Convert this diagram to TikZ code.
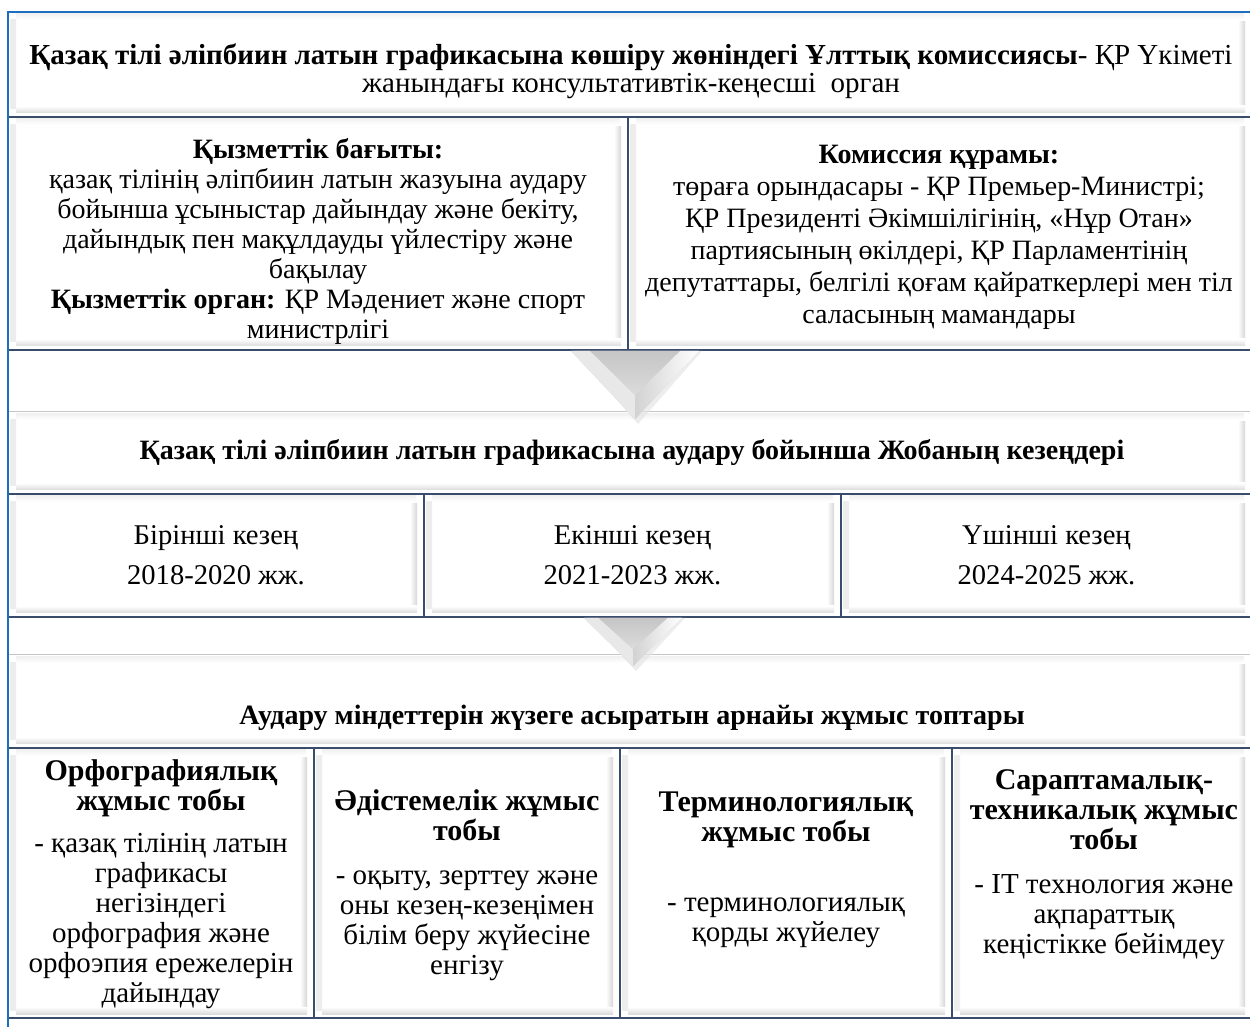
\documentclass[tikz,border=0pt]{standalone}
\usepackage{fontspec}
\setmainfont{Liberation Serif}
\usepackage{xcolor}
\definecolor{frameblue}{RGB}{30,110,192}
\definecolor{edgeline}{RGB}{58,76,108}
\newcommand{\grphead}[1]{{\fontsize{15}{15}\selectfont\bfseries #1}}
% bevelled down arrow: centre x, top y, half width, height
\newcommand{\bevelarrow}[4]{%
  \fill[gray!20, opacity=.7] ({#1-#3+3},{#2}) -- ({#1+#3+3},{#2}) -- ({#1+3},{#2+#4+5}) -- cycle;
  \fill[gray!38] ({#1-#3},{#2}) -- ({#1+#3},{#2}) -- ({#1},{#2+#4}) -- cycle;
  \fill[gray!18] ({#1-#3},{#2}) -- ({#1},{#2+#4}) -- ({#1},{#2+0.65*#4}) -- ({#1-0.7*#3},{#2}) -- cycle;
  \shade[left color=gray!35, right color=white] ({#1+0.7*#3},{#2}) -- ({#1+#3},{#2}) -- ({#1},{#2+#4}) -- ({#1},{#2+0.65*#4}) -- cycle;
  \shade[top color=gray!45, bottom color=gray!28] ({#1-0.7*#3},{#2}) -- ({#1+0.7*#3},{#2}) -- ({#1},{#2+0.65*#4}) -- cycle;
}
\tikzset{
  bevel/.style={path picture={
      \shade[left color=gray!14, right color=white] ([xshift=1pt,yshift=4pt]path picture bounding box.south west) rectangle ([xshift=4pt,yshift=-4pt]path picture bounding box.north west);
      \shade[top color=gray!10, bottom color=white] ([xshift=4pt,yshift=-1pt]path picture bounding box.north west) rectangle ([xshift=-4pt,yshift=-4pt]path picture bounding box.north east);
      \shade[left color=white, right color=gray!32] ([xshift=-7pt,yshift=5pt]path picture bounding box.south east) rectangle ([xshift=-3.5pt,yshift=-5pt]path picture bounding box.north east);
      \shade[top color=white, bottom color=gray!28] ([xshift=4pt,yshift=5.5pt]path picture bounding box.south west) rectangle ([xshift=-3.5pt,yshift=2pt]path picture bounding box.south east);
  }},
  panel/.style={draw=edgeline, line width=0.7pt, fill=white, bevel, inner sep=0pt},
  headpanel/.style={fill=white, bevel, inner sep=0pt},
  body/.style={font={\fontsize{14}{15}\selectfont}, align=center, inner sep=0pt},
  groupbody/.style={font={\fontsize{14.5}{15}\selectfont}, align=center, inner sep=0pt},
}
\begin{document}
\begin{tikzpicture}[x=0.5pt, y=-0.5pt]
\useasboundingbox (0,0) rectangle (1250,1027);

% commission
\node[headpanel, minimum width=622pt, minimum height=52.5pt] (head) at (630,64.5) {};
\node[body, font={\fontsize{14.5}{14}\selectfont}] (headtext) at (631,71)
  {\textbf{Қазақ тілі әліпбиин латын графикасына көшіру жөніндегі Ұлттық комиссиясы}- ҚР Үкіметі\\
   жанындағы консультативтік-кеңесші\ \ орган};

\node[panel, minimum width=310pt, minimum height=116.5pt] (aim) at (318,233.5) {};
\node[panel, minimum width=312pt, minimum height=116.5pt] (members) at (940,233.5) {};
\node[body] (aimtext) at (318,241)
  {\textbf{Қызметтік бағыты:}\\
   қазақ тілінің әліпбиин латын жазуына аудару\\
   бойынша ұсыныстар дайындау және бекіту,\\
   дайындық пен мақұлдауды үйлестіру және\\
   бақылау\\
   \textbf{Қызметтік орган:} ҚР Мәдениет және спорт\\
   министрлігі};
\node[body, font={\fontsize{14}{16}\selectfont}] (memberstext) at (939,237)
  {\textbf{Комиссия құрамы:}\\
   төраға орындасары - ҚР Премьер-Министрі;\\
   ҚР Президенті Әкімшілігінің, «Нұр Отан»\\
   партиясының өкілдері, ҚР Парламентінің\\
   депутаттары, белгілі қоғам қайраткерлері мен тіл\\
   саласының мамандары};

% stages
\node[headpanel, minimum width=622pt, minimum height=41pt] (stages) at (630,453) {};
\draw[gray!45, line width=0.8pt] (stages.north west) -- (stages.north east);
\node[body, font={\bfseries\fontsize{14}{15}\selectfont}] (stagestext) at (632,453)
  {Қазақ тілі әліпбиин латын графикасына аудару бойынша Жобаның кезеңдері};

\node[panel, minimum width=208pt, minimum height=61.5pt, body, font={\fontsize{14.3}{20}\selectfont}] (stage1) at (216,555.5)
  {Бірінші кезең\\ 2018-2020 жж.};
\node[panel, minimum width=208.5pt, minimum height=61.5pt, body, font={\fontsize{14.3}{20}\selectfont}] (stage2) at (632.5,555.5)
  {Екінші кезең\\ 2021-2023 жж.};
\node[panel, minimum width=205.5pt, minimum height=61.5pt, body, font={\fontsize{14.3}{20}\selectfont}] (stage3) at (1046.5,555.5)
  {Үшінші кезең\\ 2024-2025 жж.};

% working groups
\node[headpanel, minimum width=622pt, minimum height=46.5pt] (groups) at (630,701.5) {};
\draw[gray!45, line width=0.8pt] (groups.north west) -- (groups.north east);
\node[body, font={\bfseries\fontsize{14}{15}\selectfont}] (groupstext) at (632,718)
  {Аудару міндеттерін жүзеге асыратын арнайы жұмыс топтары};

\node[panel, minimum width=153pt, minimum height=135pt] (spell) at (161,883) {};
\node[panel, minimum width=153pt, minimum height=135pt] (method) at (467,883) {};
\node[panel, minimum width=166pt, minimum height=135pt] (term) at (786,883) {};
\node[panel, minimum width=150pt, minimum height=135pt] (expert) at (1102,883) {};

\node[groupbody] (spelltext) at (161,884)
  {\grphead{Орфографиялық}\\ \grphead{жұмыс тобы}\\[6pt]
   - қазақ тілінің латын\\ графикасы\\ негізіндегі\\ орфография және\\ орфоэпия ережелерін\\ дайындау};
\node[groupbody] (methodtext) at (467,885)
  {\grphead{Әдістемелік жұмыс}\\ \grphead{тобы}\\[7pt]
   - оқыту, зерттеу және\\ оны кезең-кезеңімен\\ білім беру жүйесіне\\ енгізу};
\node[groupbody] (termtext) at (786,870)
  {\grphead{Терминологиялық}\\ \grphead{жұмыс тобы}\\[20pt]
   - терминологиялық\\ қорды жүйелеу};
\node[groupbody] (experttext) at (1104,865)
  {\grphead{Сараптамалық-}\\ \grphead{техникалық жұмыс}\\ \grphead{тобы}\\[7pt]
   - IT технология және\\ ақпараттық\\ кеңістікке бейімдеу};

% arrows between the blocks
\bevelarrow{635}{351}{64}{68}
\bevelarrow{633}{618}{49}{48}

\draw[frameblue, line width=1.1pt] (8,1027) -- (8,12) -- (1250,12);
\end{tikzpicture}
\end{document}
